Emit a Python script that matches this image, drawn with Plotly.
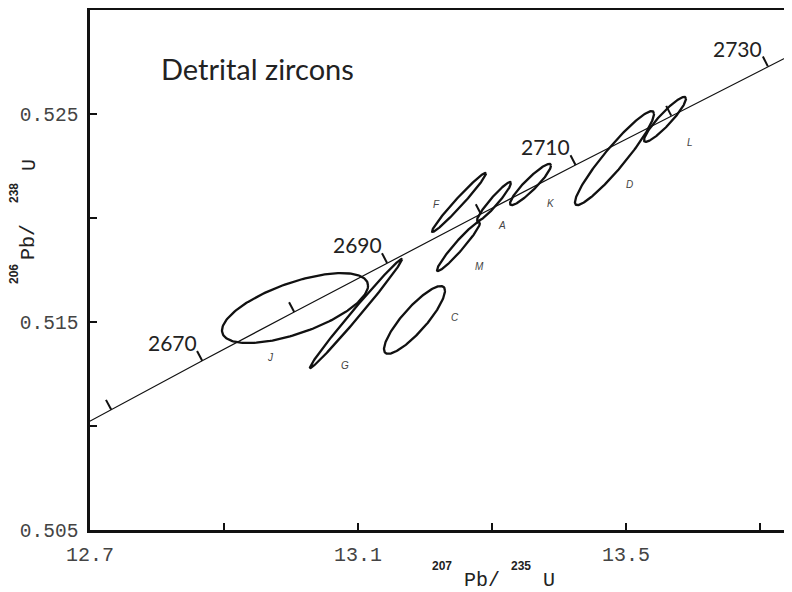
import numpy as np
import plotly.graph_objects as go

# ---------------- data ----------------
# Concordia curve points (age in Ma, 207Pb/235U, 206Pb/238U)
conc_age = [2650, 2660, 2670, 2680, 2690, 2700, 2710, 2720, 2730, 2740]
conc_x = [12.5971, 12.7316, 12.8675, 13.0048, 13.1434, 13.2834, 13.4247, 13.5675, 13.7117, 13.8573]
conc_y = [0.50845, 0.51079, 0.51314, 0.51548, 0.51784, 0.52019, 0.52255, 0.52492, 0.52729, 0.52966]
tick_ages = [2660, 2670, 2680, 2690, 2700, 2710, 2720, 2730]
label_ages = [2670, 2690, 2710, 2730]

# Detrital zircon analyses (ellipse centre, half-extents, correlation)
grains = ["J", "G", "C", "F", "A", "K", "M", "D", "L"]
pb207_u235 = [13.0060, 13.0970, 13.1843, 13.2507, 13.3030, 13.3575, 13.2500, 13.4828, 13.5582]
pb207_u235_err = [0.1090, 0.0687, 0.0455, 0.0403, 0.0254, 0.0306, 0.0321, 0.0590, 0.0313]
pb206_u238 = [0.51567, 0.51541, 0.51510, 0.52075, 0.52079, 0.52161, 0.51863, 0.52288, 0.52474]
pb206_u238_err = [0.00168, 0.00262, 0.00163, 0.00142, 0.00094, 0.00099, 0.00118, 0.00226, 0.00108]
rho = [0.64, 0.993, 0.86, 0.98, 0.95, 0.92, 0.96, 0.94, 0.92]

x_ticks = [12.7, 12.9, 13.1, 13.3, 13.5, 13.7]
x_ticktext = ["12.7", "", "13.1", "", "13.5", ""]
y_ticks = [0.505, 0.510, 0.515, 0.520, 0.525]
y_ticktext = ["0.505", "", "0.515", "", "0.525"]

# ---------------- layout constants ----------------
OFF = 8                      # page body margin (top/left)
W, H = 792 - OFF, 592 - OFF
ML, MR, MT, MB = 90 - OFF, 0, 10 - OFF, 62
PW, PH = W - ML - MR, H - MT - MB
X_RANGE = [12.7, 12.7 + PW / 670.0]
Y_RANGE = [0.505, 0.530]
SX = PW / (X_RANGE[1] - X_RANGE[0])
SY = PH / (Y_RANGE[1] - Y_RANGE[0])

# letter label positions (data coords)
lab_pos = {
    "J": (12.9687, 0.51327), "G": (13.0806, 0.51293), "C": (13.2448, 0.51524),
    "F": (13.2179, 0.52067), "A": (13.3149, 0.51962), "K": (13.3881, 0.52072),
    "M": (13.2806, 0.51769), "D": (13.5045, 0.52163), "L": (13.5955, 0.52365),
}

fig = go.Figure()

# concordia
fig.add_trace(go.Scatter(x=conc_x, y=conc_y, mode="lines",
                         line=dict(color="#111", width=1.2), hoverinfo="skip", showlegend=False))

# concordia age ticks
tx, ty = [], []
TL = 11
for a in tick_ages:
    i = conc_age.index(a)
    dpx = (conc_x[i + 1] - conc_x[i - 1]) * SX
    dpy = (conc_y[i + 1] - conc_y[i - 1]) * SY
    n = np.hypot(dpx, dpy)
    nx, ny = -dpy / n, dpx / n
    tx += [conc_x[i], conc_x[i] + nx * TL / SX, None]
    ty += [conc_y[i], conc_y[i] + ny * TL / SY, None]
fig.add_trace(go.Scatter(x=tx, y=ty, mode="lines", line=dict(color="#111", width=2),
                         hoverinfo="skip", showlegend=False))

# error ellipses
t = np.linspace(0, 2 * np.pi, 181)
for g, cx, ax, cy, ay, r in zip(grains, pb207_u235, pb207_u235_err, pb206_u238, pb206_u238_err, rho):
    ex = cx + ax * np.cos(t)
    ey = cy + ay * (r * np.cos(t) + np.sqrt(1 - r * r) * np.sin(t))
    fig.add_trace(go.Scatter(x=ex, y=ey, mode="lines", line=dict(color="#111", width=2.3),
                             name=g, hoverinfo="name", showlegend=False))

annotations = []
# age labels
for a in label_ages:
    i = conc_age.index(a)
    annotations.append(dict(x=conc_x[i], y=conc_y[i], xref="x", yref="y", text=str(a),
                            showarrow=False, xshift=-30, yshift=18,
                            xanchor="center", yanchor="middle",
                            font=dict(family="Lato", size=21, color="#222")))
# grain letters
for g in grains:
    lx, ly = lab_pos[g]
    annotations.append(dict(x=lx, y=ly, xref="x", yref="y", text="<i>" + g + "</i>",
                            showarrow=False, xanchor="center", yanchor="middle",
                            font=dict(family="Liberation Sans", size=10, color="#444")))

def px2paper(px, py):
    # px, py are screen pixel positions
    return (px - OFF - ML) / PW, (H - MB - (py - OFF)) / PH

# title
x0, y0 = px2paper(257, 68)
annotations.append(dict(x=x0, y=y0, xref="paper", yref="paper", text="Detrital zircons",
                        showarrow=False, xanchor="center", yanchor="middle",
                        font=dict(family="Lato", size=29, color="#222")))

# x axis title pieces
for txt, px, py, sz, bold in [("207", 442, 566, 12, True), ("Pb/", 482, 580, 20, False),
                              ("235", 521, 566, 12, True), ("U", 549, 580, 20, False)]:
    ax_, ay_ = px2paper(px, py)
    annotations.append(dict(x=ax_, y=ay_, xref="paper", yref="paper",
                            text=("<b>%s</b>" % txt) if bold else txt, showarrow=False,
                            xanchor="center", yanchor="middle",
                            font=dict(family="Liberation Sans" if bold else "Liberation Mono",
                                      size=sz, color="#222")))
# y axis title pieces
for txt, px, py, sz, bold in [("206", 14, 274, 12, True), ("Pb/", 29, 242, 20, False),
                              ("238", 14, 193, 12, True), ("U", 29, 165, 20, False)]:
    ax_, ay_ = px2paper(px, py)
    annotations.append(dict(x=ax_, y=ay_, xref="paper", yref="paper",
                            text=("<b>%s</b>" % txt) if bold else txt, showarrow=False,
                            xanchor="center", yanchor="middle", textangle=-90,
                            font=dict(family="Liberation Sans" if bold else "Liberation Mono",
                                      size=sz, color="#222")))

fig.update_layout(
    width=W, height=H,
    margin=dict(l=ML, r=MR, t=MT, b=MB),
    paper_bgcolor="white", plot_bgcolor="white",
    showlegend=False,
    annotations=annotations,
    xaxis=dict(range=X_RANGE, tickvals=x_ticks, ticktext=x_ticktext,
               ticks="inside", ticklen=7, tickwidth=2, tickcolor="#111",
               showline=True, linewidth=2.5, linecolor="#111", mirror=True,
               showgrid=False, zeroline=False, ticklabelstandoff=4, automargin=False,
               tickfont=dict(family="Liberation Mono", size=20, color="#444")),
    yaxis=dict(range=Y_RANGE, tickvals=y_ticks, ticktext=y_ticktext,
               ticks="inside", ticklen=7, tickwidth=2, tickcolor="#111",
               showline=True, linewidth=2.5, linecolor="#111", mirror=False,
               showgrid=False, zeroline=False, ticklabelstandoff=5, automargin=False,
               tickfont=dict(family="Liberation Mono", size=19.5, color="#444")),
)

fig.write_html("out.html")
